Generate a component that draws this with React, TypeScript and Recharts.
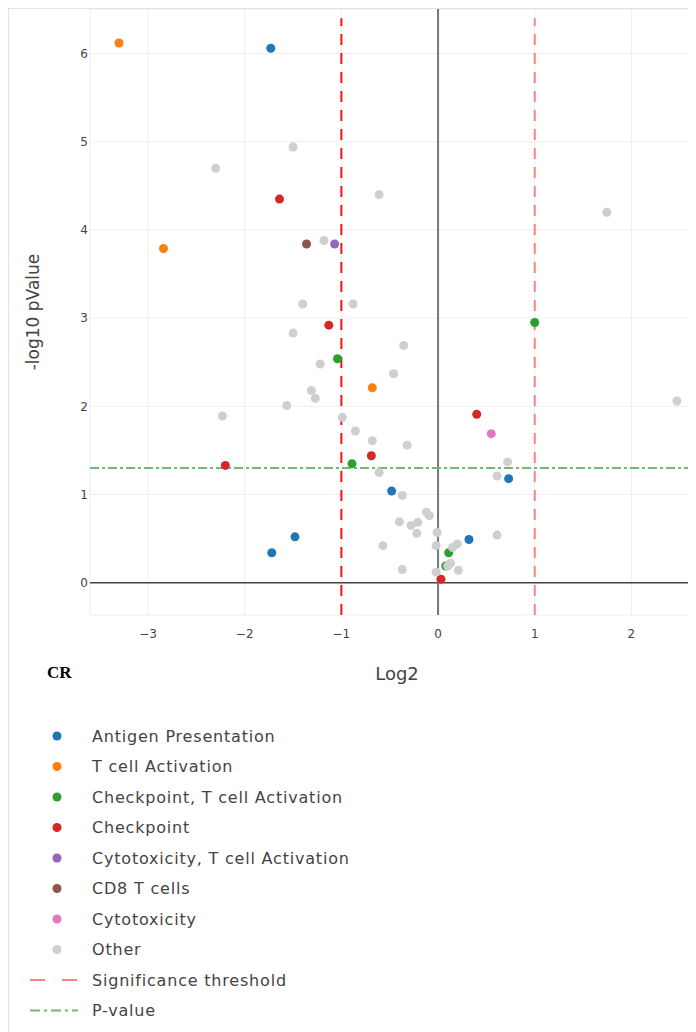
import React from 'react';
import {
  ScatterChart,
  Scatter,
  XAxis,
  YAxis,
  CartesianGrid,
  ReferenceLine,
} from 'recharts';

type Pt = { x: number; y: number };

// log2 fold change (x) vs -log10 p (y)
const antigenPresentation: Pt[] = [
  { x: -1.73, y: 6.06 }, { x: -0.48, y: 1.04 }, { x: -1.48, y: 0.52 },
  { x: -1.72, y: 0.34 }, { x: 0.32, y: 0.49 }, { x: 0.73, y: 1.18 },
];
const tCellActivation: Pt[] = [
  { x: -3.3, y: 6.12 }, { x: -2.84, y: 3.79 }, { x: -0.68, y: 2.21 },
];
const checkpointTCell: Pt[] = [
  { x: 1.0, y: 2.95 }, { x: -1.04, y: 2.54 }, { x: -0.89, y: 1.35 },
  { x: 0.11, y: 0.34 }, { x: 0.08, y: 0.19 },
];
const checkpoint: Pt[] = [
  { x: -1.64, y: 4.35 }, { x: -1.13, y: 2.92 }, { x: -0.69, y: 1.44 },
  { x: -2.2, y: 1.33 }, { x: 0.4, y: 1.91 }, { x: 0.03, y: 0.04 },
];
const cytotoxTCell: Pt[] = [{ x: -1.07, y: 3.84 }];
const cd8TCells: Pt[] = [{ x: -1.36, y: 3.84 }];
const cytotoxicity: Pt[] = [{ x: 0.55, y: 1.69 }];
const other: Pt[] = [
  { x: -1.5, y: 4.94 }, { x: -2.3, y: 4.7 }, { x: -0.61, y: 4.4 }, { x: 1.745, y: 4.2 },
  { x: -1.18, y: 3.88 }, { x: -1.4, y: 3.16 }, { x: -0.88, y: 3.16 }, { x: -1.5, y: 2.83 },
  { x: -0.355, y: 2.69 }, { x: -1.22, y: 2.48 }, { x: -0.46, y: 2.37 }, { x: -1.31, y: 2.18 },
  { x: -1.27, y: 2.09 }, { x: -1.565, y: 2.01 }, { x: 2.47, y: 2.06 }, { x: -2.23, y: 1.89 },
  { x: -0.99, y: 1.875 }, { x: -0.855, y: 1.72 }, { x: -0.68, y: 1.61 }, { x: -0.32, y: 1.56 },
  { x: 0.72, y: 1.37 }, { x: -0.61, y: 1.25 }, { x: 0.61, y: 1.21 }, { x: -0.37, y: 0.99 },
  { x: -0.12, y: 0.8 }, { x: -0.09, y: 0.76 }, { x: -0.4, y: 0.69 }, { x: -0.21, y: 0.685 },
  { x: -0.28, y: 0.65 }, { x: -0.22, y: 0.56 }, { x: -0.01, y: 0.57 }, { x: 0.61, y: 0.54 },
  { x: -0.57, y: 0.42 }, { x: -0.02, y: 0.42 }, { x: 0.2, y: 0.44 }, { x: 0.15, y: 0.4 },
  { x: 0.13, y: 0.22 }, { x: 0.1, y: 0.19 }, { x: -0.37, y: 0.15 }, { x: -0.02, y: 0.12 },
  { x: 0.21, y: 0.14 },
];

const seriesNames = [
  'Antigen Presentation',
  'T cell Activation',
  'Checkpoint, T cell Activation',
  'Checkpoint',
  'Cytotoxicity, T cell Activation',
  'CD8 T cells',
  'Cytotoxicity',
  'Other',
];
const seriesData = [
  antigenPresentation, tCellActivation, checkpointTCell, checkpoint,
  cytotoxTCell, cd8TCells, cytotoxicity, other,
];
const seriesColors = [
  '#1f77b4', '#ff7f0e', '#2ca02c', '#d62728',
  '#9467bd', '#8c564b', '#e377c2', '#cfcfcf',
];

const foldThresholds = [-1, 1];
const thresholdTop = 6.4;
const pValueLine = 1.3;

const xTicks = [-3, -2, -1, 0, 1, 2];
const yTicks = [0, 1, 2, 3, 4, 5, 6];
const xDomain: [number, number] = [-3.6, 2.668];
const yDomain: [number, number] = [-0.366, 6.505];

const FONT = '"DejaVu Sans", Verdana, sans-serif';

const dot = (color: string) => (p: any) => (
  <circle cx={p.cx} cy={p.cy} r={4.5} fill={color} />
);

const legendText = { fontSize: 16, fill: '#444', fontFamily: FONT, letterSpacing: 0.8 };

const Legend2: React.FC = () => {
  const rowH = 30.5;
  const top0 = 27;
  return (
    <svg
      width={420}
      height={324}
      style={{ position: 'absolute', left: 0, top: 700 }}
    >
      {seriesNames.map((name, i) => (
        <g key={name}>
          <circle cx={48} cy={top0 + i * rowH} r={4.5} fill={seriesColors[i]} />
          <text x={83} y={top0 + i * rowH} dominantBaseline="central" style={legendText}>
            {name}
          </text>
        </g>
      ))}
      <line x1={21} x2={69} y1={top0 + 8 * rowH} y2={top0 + 8 * rowH} stroke="#ff8080" strokeWidth={2} strokeDasharray="15,17" />
      <text x={83} y={top0 + 8 * rowH} dominantBaseline="central" style={legendText}>
        Significance threshold
      </text>
      <line x1={21} x2={69} y1={top0 + 9 * rowH} y2={top0 + 9 * rowH} stroke="#74b874" strokeWidth={2} strokeDasharray="10,4,3,4" />
      <text x={83} y={top0 + 9 * rowH} dominantBaseline="central" style={legendText}>
        P-value
      </text>
    </svg>
  );
};

export default function App() {
  return (
    <div
      style={{
        position: 'relative',
        width: 688,
        height: 1024,
        boxSizing: 'border-box',
        borderTop: '1px solid #e2e2e2',
        borderLeft: '1px solid #e2e2e2',
        overflow: 'hidden',
        fontFamily: FONT,
      }}
    >
      <ScatterChart width={687} height={690} margin={{ top: 0, right: 0, bottom: 54, left: 0 }}>
        <CartesianGrid stroke="#eeeeee" strokeWidth={1} />
        <XAxis
          type="number"
          dataKey="x"
          domain={xDomain}
          ticks={xTicks}
          allowDataOverflow
          height={30}
          axisLine={false}
          tickLine={false}
          tickSize={0}
          tickMargin={14}
          tick={{ fontSize: 12, fill: '#444', fontFamily: FONT }}
          tickFormatter={(v: number) => (v < 0 ? `\u2212${Math.abs(v)}` : `${v}`)}
          label={{
            content: (props: any) => {
              const vb = props.viewBox;
              return (
                <text x={vb.x + vb.width / 2 + 4} y={664} textAnchor="middle" dominantBaseline="central" fontSize={18} fill="#444" fontFamily={FONT}>
                  Log2
                </text>
              );
            },
          }}
        />
        <YAxis
          type="number"
          dataKey="y"
          domain={yDomain}
          ticks={yTicks}
          allowDataOverflow
          width={81}
          axisLine={false}
          tickLine={false}
          tickSize={0}
          tickMargin={2}
          tick={{ fontSize: 12, fill: '#444', fontFamily: FONT }}
          label={{
            content: (props: any) => {
              const vb = props.viewBox;
              const cy = vb.y + vb.height / 2;
              return (
                <text x={24} y={cy} textAnchor="middle" dominantBaseline="central" fontSize={17} fill="#444" fontFamily={FONT} transform={`rotate(-90, 24, ${cy})`}>
                  -log10 pValue
                </text>
              );
            },
          }}
        />
        <ReferenceLine y={0} stroke="#444" strokeWidth={1.5} />
        <ReferenceLine x={0} stroke="#777" strokeWidth={2} />
        {seriesNames.map((name, i) => (
          <Scatter
            key={name}
            name={name}
            data={seriesData[i]}
            fill={seriesColors[i]}
            shape={dot(seriesColors[i])}
            isAnimationActive={false}
          />
        ))}
        <ReferenceLine
          segment={[{ x: foldThresholds[0], y: yDomain[0] }, { x: foldThresholds[0], y: thresholdTop }]}
          stroke="#ee1515"
          strokeWidth={2}
          strokeDasharray="11,8"
        />
        <ReferenceLine
          segment={[{ x: foldThresholds[1], y: yDomain[0] }, { x: foldThresholds[1], y: thresholdTop }]}
          stroke="#ff8080"
          strokeWidth={2}
          strokeDasharray="11,8"
        />
        <ReferenceLine y={pValueLine} stroke="#74b874" strokeWidth={2} strokeDasharray="9,3,3,3" />
      </ScatterChart>
      <div
        style={{
          position: 'absolute',
          left: 38,
          top: 654,
          lineHeight: '20px',
          fontFamily: '"Liberation Serif", serif',
          fontWeight: 'bold',
          fontSize: 17,
          color: '#000',
        }}
      >
        CR
      </div>
      <Legend2 />
    </div>
  );
}
